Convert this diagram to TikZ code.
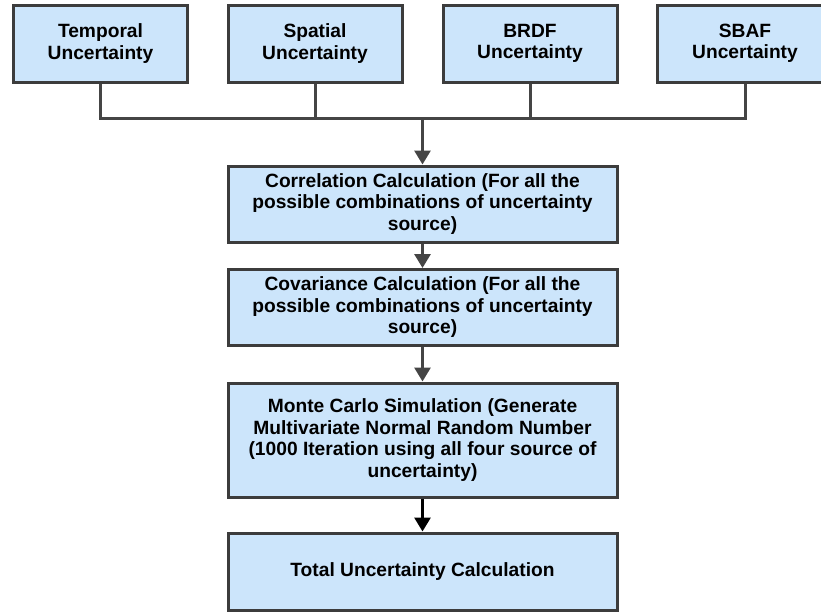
\documentclass[tikz,border=0pt]{standalone}
\usepackage{fontspec}
\setmainfont{Liberation Sans}
\usetikzlibrary{arrows.meta}
\definecolor{boxfill}{HTML}{CCE5FB}
\definecolor{boxline}{HTML}{3C3C3C}
\definecolor{conn}{HTML}{454545}
\begin{document}
\begin{tikzpicture}[x=1pt,y=-1pt,
  box/.style={draw=boxline,line width=3pt,fill=boxfill,align=center,
    font=\fontsize{19.2}{21.5}\selectfont\bfseries,inner sep=0pt},
  link/.style={draw=conn,line width=3pt},
  arr/.style={link,-{Triangle[length=14pt,width=16pt]}},
  farr/.style={draw=black,line width=3pt,-{Triangle[length=14pt,width=16pt]}}]
\useasboundingbox (0,0) rectangle (821,613);
\node[box,minimum width=174pt,minimum height=77pt] (tem) at (100.5,43.5) {Temporal\\Uncertainty};
\node[box,minimum width=174pt,minimum height=77pt] (spa) at (315,43.5) {Spatial\\Uncertainty};
\node[box,minimum width=174pt,minimum height=77pt] (brd) at (530,43.5) {BRDF\\Uncertainty};
\node[box,minimum width=176pt,minimum height=77pt] (sba) at (745,43.5) {SBAF\\Uncertainty};
\node[box,minimum width=389pt,minimum height=76pt] (cor) at (422.5,204) {Correlation Calculation (For all the\\possible combinations of uncertainty\\source)};
\node[box,minimum width=389pt,minimum height=76pt] (cov) at (422.5,307.5) {Covariance Calculation (For all the\\possible combinations of uncertainty\\source)};
\node[box,minimum width=389pt,minimum height=114pt] (mc) at (422.5,440) {Monte Carlo Simulation (Generate\\Multivariate Normal Random Number\\(1000 Iteration using all four source of\\uncertainty)};
\node[box,minimum width=389pt,minimum height=77pt] (tot) at (422.5,571.5) {Total Uncertainty Calculation};
\coordinate (j) at (422.5,118);
\draw[link] (tem.south) |- (j) -| (sba.south);
\draw[link] (spa.south) -- (spa.south |- j);
\draw[link] (brd.south) -- (brd.south |- j);
\draw[arr] (j) -- (cor.north);
\draw[arr] (cor.south) -- (cov.north);
\draw[arr] (cov.south) -- (mc.north);
\draw[farr] (mc.south) -- (tot.north);
\end{tikzpicture}
\end{document}
